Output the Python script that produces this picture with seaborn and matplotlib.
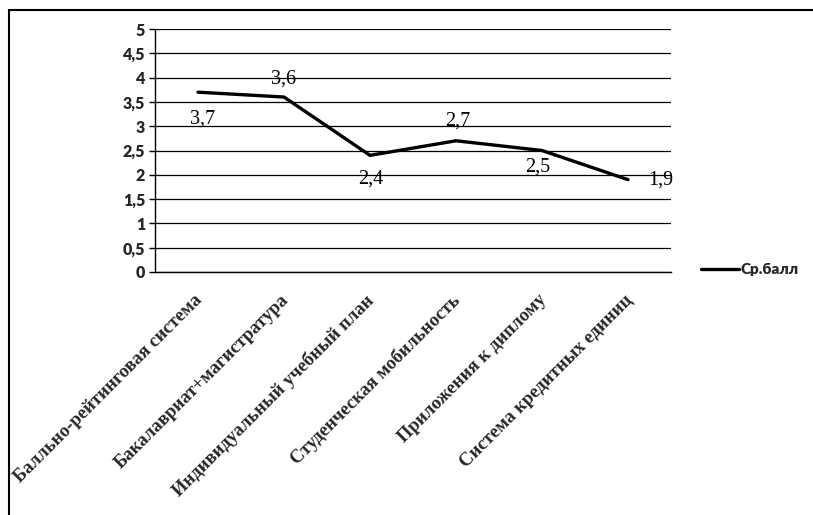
import matplotlib
matplotlib.use("Agg")
import matplotlib.pyplot as plt
import matplotlib.lines as mlines
import matplotlib.transforms as mtransforms
import seaborn as sns
import pandas as pd
import numpy as np

categories = ["Балльно-рейтинговая система", "Бакалавриат+магистратура",
              "Индивидуальный учебный план", "Студенческая мобильность",
              "Приложения к диплому", "Система кредитных единиц"]
values = [3.7, 3.6, 2.4, 2.7, 2.5, 1.9]
value_labels = ["3,7", "3,6", "2,4", "2,7", "2,5", "1,9"]
y_ticks = [0, 0.5, 1, 1.5, 2, 2.5, 3, 3.5, 4, 4.5, 5]
y_tick_labels = ["0", "0,5", "1", "1,5", "2", "2,5", "3", "3,5", "4", "4,5", "5"]
series_name = "Ср.балл"

sns.set_theme(style="white")
plt.rcParams['font.family'] = ['DejaVu Sans']

W, H = 813, 515
fig = plt.figure(figsize=(W / 100, H / 100), dpi=100)
ax = fig.add_axes([155 / W, 1 - 272 / H, (671 - 155) / W, (272 - 29) / H])

df = pd.DataFrame({"cat": categories, "val": values})
df["pos"] = np.arange(len(categories))
sns.lineplot(data=df, x="pos", y="val", ax=ax, color="black", linewidth=2.4,
             label=series_name, legend=False)

ax.set_xlabel("")
ax.set_ylabel("")
ax.set_xlim(-0.5, len(categories) - 0.5)
ax.set_ylim(0, 5)
ax.set_yticks(y_ticks)
ax.set_yticklabels(y_tick_labels, fontfamily="Lato", fontweight="heavy", fontsize=11.5)
ax.yaxis.grid(True, color="black", linewidth=0.9)
ax.set_axisbelow(True)

# x ticks: labels at centers, tick marks at boundaries
ax.set_xticks(np.arange(len(categories)))
ax.set_xticklabels(categories, rotation=45, ha="right", va="top",
                   fontfamily="Liberation Serif", fontweight="bold", fontsize=13.5)
ax.set_xticks(np.arange(-0.5, len(categories)), minor=True)
ax.tick_params(axis="x", which="major", length=0, pad=14)
ax.tick_params(axis="x", which="minor", length=5, width=1, color="black", direction="out")
ax.tick_params(axis="y", length=4, width=1, color="black", direction="out", pad=3)
ax.tick_params(bottom=True, left=True)
offset = mtransforms.ScaledTranslation(8 / 100, 0, fig.dpi_scale_trans)
for lab in ax.get_xticklabels():
    lab.set_transform(lab.get_transform() + offset)

for s in ["top", "right"]:
    ax.spines[s].set_visible(False)
for s in ["left", "bottom"]:
    ax.spines[s].set_color("black")
    ax.spines[s].set_linewidth(1)

offsets = [(5, -27), (0, 18), (1, -24), (2, 20), (-4, -17), (33, 0)]
for i, (v, t) in enumerate(zip(values, value_labels)):
    ax.annotate(t, (i, v), xytext=offsets[i], textcoords="offset pixels",
                ha="center", va="center", fontfamily="Liberation Serif",
                fontsize=14.5, color="black")

handles, labels = ax.get_legend_handles_labels()
leg = fig.legend(handles, labels, loc="center left",
                 bbox_to_anchor=(701 / W, 1 - 270 / H), frameon=False,
                 borderpad=0, borderaxespad=0, handlelength=2.5, handletextpad=0.1,
                 prop={"family": "Lato", "weight": "heavy", "size": 11})

# outer chart border (left and top visible; rest outside the crop)
bx, by = 8.5 / W, 1 - 9.5 / H
fig.add_artist(mlines.Line2D([bx, bx], [0, by], transform=fig.transFigure,
                             color="black", linewidth=1.5))
fig.add_artist(mlines.Line2D([bx, 1], [by, by], transform=fig.transFigure,
                             color="black", linewidth=1.5))

fig.savefig("out.png", dpi=100)
